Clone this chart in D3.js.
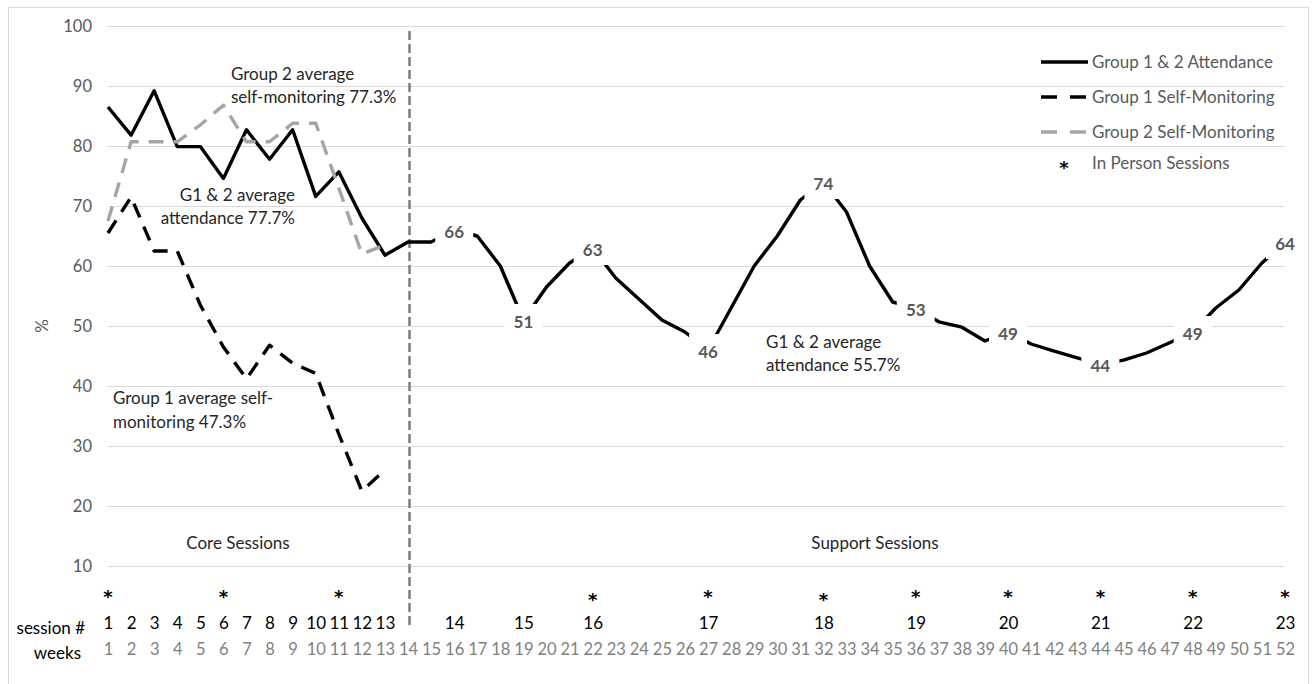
<!DOCTYPE html>
<html>
<head>
<meta charset="utf-8">
<script src="https://cdn.jsdelivr.net/npm/d3@7"></script>
<style>
  html, body { margin: 0; padding: 0; background: #fff; }
  svg { display: block; font-family: Lato, "Open Sans", sans-serif; }
</style>
</head>
<body>
<svg id="chart" width="1316" height="684"></svg>
<script>
// ---------------- DATA ----------------
const weeks = d3.range(1, 53);
const attendance = [86.5, 81.8, 89.2, 79.9, 79.9, 74.6, 82.7, 77.8, 82.7, 71.6, 75.7, 68, 61.8,
  64, 64, 66, 65, 60, 51, 56.5, 60.5, 63, 58, 54.5, 51, 49, 46, 53, 60, 65, 71, 74, 69, 60, 54,
  53, 50.7, 49.8, 47.5, 49, 47, 45.8, 44.7, 43.6, 44.3, 45.5, 47.2, 49, 53, 56, 60.5, 64];
const g1SelfMon = [65.5, 71.5, 62.5, 62.5, 53.5, 46.5, 41.2, 46.8, 43.8, 42.1, 32, 22.5, 26];
const g2SelfMon = [67.5, 80.7, 80.7, 80.7, 83.5, 86.8, 80.7, 80.7, 83.8, 83.8, 73, 62, 63.5];
const sessionNums = d3.range(1, 24);
const sessionWeeks = [1, 2, 3, 4, 5, 6, 7, 8, 9, 10, 11, 12, 13, 16, 19, 22, 27, 32, 36, 40, 44, 48, 52];
const labeledSessions = [14, 15, 16, 17, 18, 19, 20, 21, 22, 23];
const inPersonSessions = [1, 6, 11, 16, 17, 18, 19, 20, 21, 22, 23];
const yTicks = [10, 20, 30, 40, 50, 60, 70, 80, 90, 100];
const coreEndWeek = 14;
const seriesNames = ["Group 1 & 2 Attendance", "Group 1 Self-Monitoring", "Group 2 Self-Monitoring", "In Person Sessions"];

// ---------------- LAYOUT ----------------
const svg = d3.select("#chart");
const x = d3.scaleLinear().domain([1, 52]).range([108, 1285]);
const y = d3.scaleLinear().domain([0, 100]).range([626, 26]);
const gridX0 = 108, gridX1 = 1284;
const FS = 17;

// outer frame
svg.append("rect").attr("x", 8.5).attr("y", 7.5).attr("width", 1300).attr("height", 690)
  .attr("fill", "none").attr("stroke", "#d9d9d9").attr("stroke-width", 1);

// gridlines
svg.append("g").selectAll("line").data(yTicks).join("line")
  .attr("x1", gridX0).attr("x2", gridX1)
  .attr("y1", d => Math.round(y(d)) + 0.5).attr("y2", d => Math.round(y(d)) + 0.5)
  .attr("stroke", "#d9d9d9").attr("stroke-width", 1.2);

// y axis tick labels
const yAxis = d3.axisLeft(y).tickValues(yTicks).tickSize(0).tickPadding(0);
const gy = svg.append("g").attr("transform", "translate(92,0)").call(yAxis);
gy.select(".domain").remove();
gy.selectAll("text").attr("font-size", 16.5).attr("fill", "#595959")
  .attr("font-family", "Lato, sans-serif");

svg.append("text").attr("transform", `translate(48,${y(50)}) rotate(-90)`)
  .attr("text-anchor", "middle").attr("font-size", FS).attr("fill", "#595959").text("%");

// vertical dashed separator
svg.append("line").attr("x1", x(coreEndWeek) + 1.5).attr("x2", x(coreEndWeek) + 1.5)
  .attr("y1", 31).attr("y2", 627)
  .attr("stroke", "#808080").attr("stroke-width", 2.6).attr("stroke-dasharray", "9,4");

// lines
const line = d3.line().x((d, i) => x(weeks[i])).y(d => y(d));
svg.append("path").datum(attendance).attr("d", line)
  .attr("fill", "none").attr("stroke", "#000").attr("stroke-width", 3.4)
  .attr("stroke-linejoin", "round");
svg.append("path").datum(g1SelfMon).attr("d", line)
  .attr("fill", "none").attr("stroke", "#000").attr("stroke-width", 3.4)
  .attr("stroke-dasharray", "15,10").attr("stroke-linejoin", "round");
svg.append("path").datum(g2SelfMon).attr("d", line)
  .attr("fill", "none").attr("stroke", "#a5a5a5").attr("stroke-width", 3.4)
  .attr("stroke-dasharray", "15,10").attr("stroke-linejoin", "round");

// data labels
const labelG = svg.append("g");
labeledSessions.forEach(s => {
  const w = sessionWeeks[s - 1];
  const v = attendance[w - 1];
  const cx = x(w), cy = y(v);
  labelG.append("rect").attr("x", cx - 19).attr("y", cy - 16).attr("width", 38).attr("height", 33)
    .attr("fill", "#fff");
  labelG.append("text").attr("x", cx).attr("y", cy + 2).attr("dy", "0.35em")
    .attr("text-anchor", "middle").attr("font-size", FS).attr("font-weight", 700)
    .attr("fill", "#595959").text(d3.format(".0f")(v));
});

// annotations
function multiText(lines, xPos, yPos, anchor, lh) {
  const t = svg.append("text").attr("font-size", FS).attr("fill", "#262626").attr("text-anchor", anchor);
  lines.forEach((l, i) => t.append("tspan").attr("x", xPos).attr("y", yPos + i * lh).attr("dy", "0.35em").text(l));
}
multiText(["Group 2 average", "self-monitoring 77.3%"], 231, 74, "start", 23);
multiText(["G1 & 2 average", "attendance 77.7%"], 295, 195, "end", 23);
multiText(["Group 1 average self-", "monitoring 47.3%"], 113, 398, "start", 24);
multiText(["G1 & 2 average", "attendance 55.7%"], 766, 342, "start", 23);
multiText(["Core Sessions"], 238, 543, "middle", 0);
multiText(["Support Sessions"], 875, 543, "middle", 0);

// legend
const legX0 = 1041, legX1 = 1088, legTx = 1092;
const legRows = [62, 97, 132, 163];
const legStyles = [
  { stroke: "#000", dash: null },
  { stroke: "#000", dash: "16,13" },
  { stroke: "#a5a5a5", dash: "16,13" }
];
legStyles.forEach((st, i) => {
  svg.append("line").attr("x1", legX0).attr("x2", legX1).attr("y1", legRows[i]).attr("y2", legRows[i])
    .attr("stroke", st.stroke).attr("stroke-width", 3.4).attr("stroke-dasharray", st.dash);
});
svg.append("text").attr("x", 1064).attr("y", legRows[3] + 11).attr("text-anchor", "middle")
  .attr("font-family", "DejaVu Sans, sans-serif")
  .attr("font-size", 18).attr("font-weight", 700).attr("fill", "#000").text("*");
seriesNames.forEach((n, i) => {
  svg.append("text").attr("x", legTx).attr("y", legRows[i]).attr("dy", "0.35em")
    .attr("font-size", FS).attr("fill", "#595959").text(n);
});

// in-person asterisks
const lowered = [16, 18];
svg.append("g").selectAll("text").data(inPersonSessions).join("text")
  .attr("x", s => x(sessionWeeks[s - 1]))
  .attr("y", s => 603 + (lowered.includes(s) ? 3 : 0))
  .attr("text-anchor", "middle").attr("font-family", "DejaVu Sans, sans-serif")
  .attr("font-size", 18).attr("font-weight", 700)
  .attr("fill", "#000").text("*");

// session # row
const sessAxis = d3.axisBottom(x).tickValues(sessionWeeks)
  .tickFormat((d, i) => sessionNums[i]).tickSize(0).tickPadding(0);
const gs = svg.append("g").attr("transform", "translate(0,617)").call(sessAxis);
gs.select(".domain").remove();
gs.selectAll("text").attr("font-size", FS).attr("fill", "#000").attr("font-family", "Lato, sans-serif");

// weeks row
const weekAxis = d3.axisBottom(x).tickValues(weeks).tickFormat(d3.format("d")).tickSize(0).tickPadding(0);
const gw = svg.append("g").attr("transform", "translate(0,643)").call(weekAxis);
gw.select(".domain").remove();
gw.selectAll("text").attr("font-size", 16.5).attr("fill", "#7f7f7f").attr("font-family", "Lato, sans-serif");

svg.append("text").attr("x", 85).attr("y", 628).attr("dy", "0.35em").attr("text-anchor", "end")
  .attr("font-size", FS).attr("fill", "#000").text("session #");
svg.append("text").attr("x", 81).attr("y", 653).attr("dy", "0.35em").attr("text-anchor", "end")
  .attr("font-size", FS).attr("fill", "#000").text("weeks");
</script>
</body>
</html>
